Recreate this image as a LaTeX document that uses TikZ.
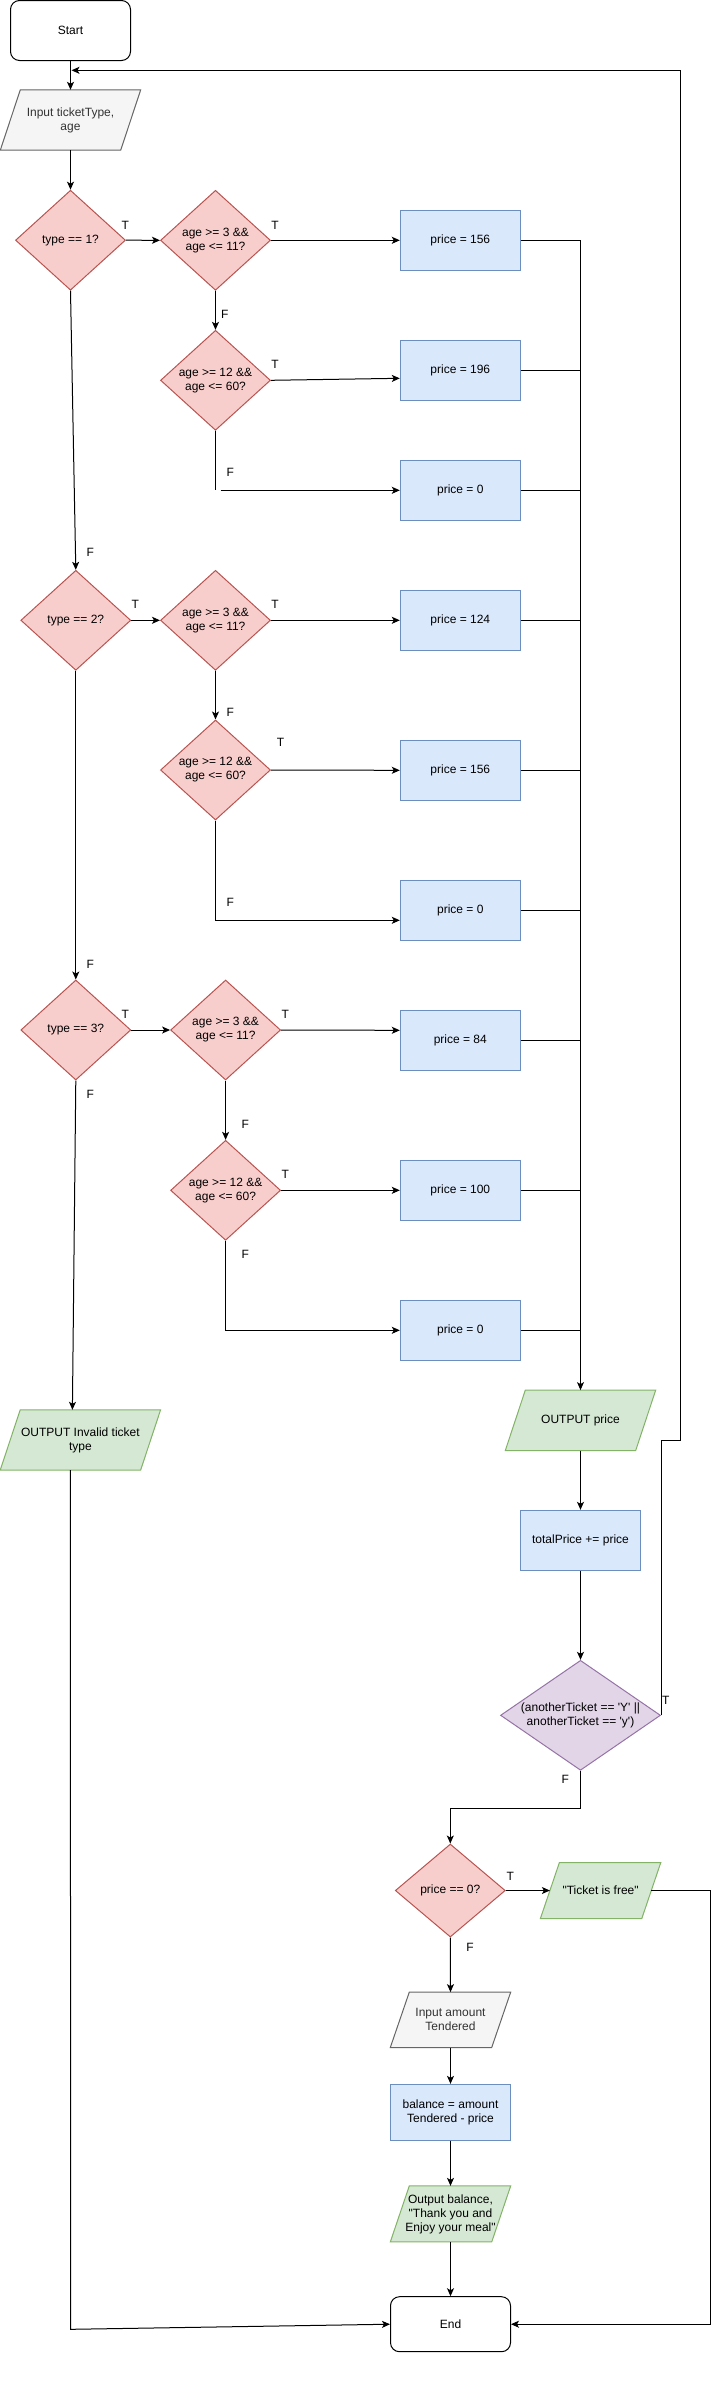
\documentclass[tikz,border=0pt]{standalone}
\usepackage{fontspec}
\newfontfamily\dfont{Liberation Sans}
\usetikzlibrary{shapes.geometric,arrows.meta,backgrounds,calc}
\definecolor{pinkF}{HTML}{F8CECC}
\definecolor{pinkD}{HTML}{B85450}
\definecolor{blueF}{HTML}{DAE8FC}
\definecolor{blueD}{HTML}{6C8EBF}
\definecolor{greenF}{HTML}{D5E8D4}
\definecolor{greenD}{HTML}{82B366}
\definecolor{grayF}{HTML}{F5F5F5}
\definecolor{grayD}{HTML}{666666}
\definecolor{grayT}{HTML}{333333}
\definecolor{purF}{HTML}{E1D5E7}
\definecolor{purD}{HTML}{9673A6}
\begin{document}
\begin{tikzpicture}[x=1pt,y=-1pt,
  every node/.style={font=\dfont\fontsize{12}{14}\selectfont, inner sep=0pt, align=center},
  dec/.style={diamond, draw=pinkD, fill=pinkF, line width=1pt, minimum width=110pt, minimum height=100pt},
  proc/.style={rectangle, draw=blueD, fill=blueF, line width=1pt, minimum width=120pt, minimum height=60pt},
  term/.style={rectangle, rounded corners=9pt, draw=black, line width=1pt, minimum width=120pt, minimum height=60pt},
  iobox/.style={rectangle, minimum height=60pt},
  arr/.style={-{Stealth[length=8pt,width=7pt,inset=2pt]}, line width=1pt},
  ln/.style={line width=1pt}]
\useasboundingbox (0,0) rectangle (719,2396);

% nodes
\node[term] (start) at (70.5,30.5) {Start};
\node[iobox, minimum width=140pt, text=grayT] (in1) at (70.5,120) {Input ticketType,\\age};
\node[dec] (t1) at (70.5,240.2) {type == 1?};
\node[dec] (a1) at (215.5,240.3) {age >= 3 \&\&\\age <= 11?};
\node[proc] (b1) at (460.3,240.3) {price = 156};
\node[dec] (a2) at (215.5,380.3) {age >= 12 \&\&\\age <= 60?};
\node[proc] (b2) at (460.3,370.3) {price = 196};
\node[proc] (b3) at (460.3,490.3) {price = 0};
\node[dec] (t2) at (75.8,620.3) {type == 2?};
\node[dec] (a3) at (215.5,620.3) {age >= 3 \&\&\\age <= 11?};
\node[proc] (b4) at (460.3,620.3) {price = 124};
\node[dec] (a4) at (215.5,770) {age >= 12 \&\&\\age <= 60?};
\node[proc] (b5) at (460.3,770.3) {price = 156};
\node[proc] (b6) at (460.3,910.3) {price = 0};
\node[dec] (t3) at (75.8,1030) {type == 3?};
\node[dec] (a5) at (225.6,1030) {age >= 3 \&\&\\age <= 11?};
\node[proc] (b7) at (460.3,1040.3) {price = 84};
\node[dec] (a6) at (225.6,1190.3) {age >= 12 \&\&\\age <= 60?};
\node[proc] (b8) at (460.3,1190.3) {price = 100};
\node[proc] (b9) at (460.3,1330.3) {price = 0};
\node[iobox, minimum width=160pt] (inv) at (80.4,1440) {OUTPUT Invalid ticket\\type};
\node[iobox, minimum width=150pt] (op) at (580.5,1420.3) {OUTPUT price};
\node[proc] (tp) at (580.5,1540.3) {totalPrice += price};
\node[dec, draw=purD, fill=purF, minimum width=160pt, minimum height=110pt, aspect=1.4545] (pd) at (580.5,1715.3) {(anotherTicket == 'Y' ||\\anotherTicket == 'y')};
\node[dec, minimum height=93pt] (p0) at (450.3,1890.5) {price == 0?};
\node[iobox, minimum width=120pt, minimum height=55.6pt] (tf) at (600.6,1890.5) {"Ticket is free"};
\node[iobox, minimum width=120pt, minimum height=55pt, text=grayT] (ia) at (450.5,2019.8) {Input amount\\Tendered};
\node[proc, minimum height=55.7pt] (bal) at (450.5,2112.2) {balance = amount\\Tendered - price};
\node[iobox, minimum width=120pt, minimum height=55.7pt] (ob) at (450.5,2213.9) {Output balance,\\"Thank you and\\Enjoy your meal"};
\node[term, minimum height=55pt] (end) at (450.5,2324.2) {End};

% parallelogram bodies
\begin{scope}[on background layer]
\foreach \n/\s/\f/\d in {in1/20pt/grayF/grayD, inv/20pt/greenF/greenD, op/20pt/greenF/greenD, tf/19pt/greenF/greenD, ia/19pt/grayF/grayD, ob/19pt/greenF/greenD}
  \filldraw[fill=\f, draw=\d, line width=1pt] ([xshift=\s]\n.north west) -- (\n.north east) -- ([xshift=-\s]\n.south east) -- (\n.south west) -- cycle;
\end{scope}

% connectors
\draw[arr] (start.south) -- (in1.north);
\draw[arr] (in1.south) -- (t1.north);
\draw[arr] (t1.east) -- (a1.west);
\draw[arr] (a1.east) -- (b1.west);
\draw[arr] (a1.south) -- (a2.north);
\draw[arr] (a2.east) -- ([yshift=-8pt]b2.west);
\draw[ln] (a2.south) -- (a2.south |- b3.west);
\coordinate (g1) at (220.5,490.3);
\draw[arr] (g1) -- (b3.west);
\draw[arr] (t1.south) -- (t2.north);
\draw[arr] (t2.east) -- (a3.west);
\draw[arr] (a3.east) -- (b4.west);
\draw[arr] (a3.south) -- (a4.north);
\draw[arr] (a4.east) -- (b5.west);
\draw[arr] (a4.south) |- ([yshift=-10pt]b6.west);
\draw[arr] (t2.south) -- (t3.north);
\draw[arr] (t3.east) -- (a5.west);
\draw[arr] (a5.east) -- ([yshift=10pt]b7.west);
\draw[arr] (a5.south) -- (a6.north);
\draw[arr] (a6.east) -- (b8.west);
\draw[arr] (a6.south) |- (b9.west);
\draw[arr] (t3.south) -- ([xshift=-8pt]inv.north);
\coordinate (ivc) at (70.6,2329.3);
\draw[arr] ([xshift=-10pt]inv.south) -- (ivc) -- (end.west);

\draw[arr] (b1.east) -| (op.north);
\foreach \b in {b2,b3,b4,b5,b6,b7,b8,b9}
  \draw[ln] (\b.east) -- (\b.east -| op.north);
\draw[arr] (op.south) -- (tp.north);
\draw[arr] (tp.south) -- (pd.north);
\coordinate (lc) at (680.7,1440.3);
\coordinate (le) at (71.5,70.3);
\draw[arr] (pd.east) -- (pd.east |- lc) -- (lc) -- (lc |- le) -- (le);
\draw[arr] (pd.south) -- ++(0,37.7) -| (p0.north);
\draw[arr] (p0.east) -- ([xshift=9.5pt]tf.west);
\coordinate (rc) at (710.7,2324.2);
\draw[arr] ([xshift=-9.5pt]tf.east) -| (rc) -- (end.east);
\draw[arr] (p0.south) -- (ia.north);
\draw[arr] (ia.south) -- (bal.north);
\draw[arr] (bal.south) -- (ob.north);
\draw[arr] (ob.south) -- (end.north);

% labels
\node (lt1) at (125.2,225) {T};
\node (lt2) at (275.1,225) {T};
\node (lt3) at (275.1,364.3) {T};
\node (lt4) at (135.3,604.7) {T};
\node (lt5) at (275.1,604.7) {T};
\node (lt6) at (280.6,742.7) {T};
\node (lt7) at (125.2,1014.3) {T};
\node (lt8) at (285.2,1014.3) {T};
\node (lt9) at (285.2,1174.3) {T};
\node (lt10) at (665.7,1700) {T};
\node (lt11) at (510.3,1876) {T};
\node (lf1) at (224.7,314.3) {F};
\node (lf2) at (230.2,472.3) {F};
\node (lf3) at (90.3,552.3) {F};
\node (lf4) at (230.2,712.7) {F};
\node (lf5) at (230.2,902.3) {F};
\node (lf6) at (90.3,964.3) {F};
\node (lf7) at (90.3,1094.3) {F};
\node (lf8) at (245.3,1124.3) {F};
\node (lf9) at (245.3,1254.3) {F};
\node (lf10) at (565.3,1779) {F};
\node (lf11) at (470,1947.7) {F};
\end{tikzpicture}
\end{document}
